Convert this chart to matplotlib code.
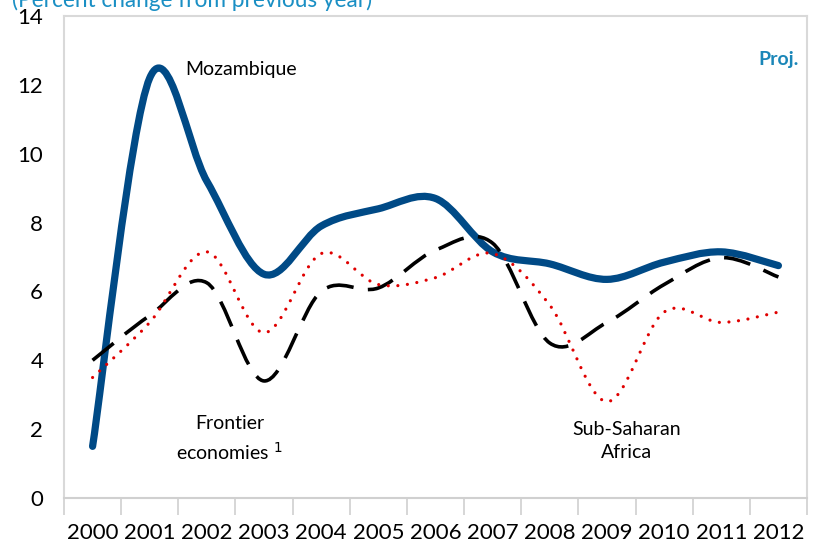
import numpy as np
import matplotlib
matplotlib.use("Agg")
import matplotlib.pyplot as plt
from matplotlib.path import Path
from matplotlib.patches import PathPatch

years = ["2000", "2001", "2002", "2003", "2004", "2005", "2006",
         "2007", "2008", "2009", "2010", "2011", "2012"]
mozambique = [1.5, 12.2, 9.2, 6.5, 7.9, 8.4, 8.7, 7.15, 6.8, 6.35, 6.85, 7.15, 6.75]
frontier = [4.0, 5.3, 6.25, 3.4, 6.0, 6.1, 7.2, 7.4, 4.5, 5.1, 6.2, 6.98, 6.42]
ssa = [3.5, 5.1, 7.15, 4.8, 7.1, 6.2, 6.4, 7.1, 5.6, 2.8, 5.4, 5.1, 5.4]

plt.rcParams['font.family'] = ['Lato', 'DejaVu Sans']

def smooth_path(xs, ys, t=1.0 / 6):
    xs = np.asarray(xs, float)
    ys = np.asarray(ys, float)
    n = len(xs)
    verts = [(xs[0], ys[0])]
    codes = [Path.MOVETO]
    for i in range(n - 1):
        p0 = np.array([xs[max(i - 1, 0)], ys[max(i - 1, 0)]])
        p1 = np.array([xs[i], ys[i]])
        p2 = np.array([xs[i + 1], ys[i + 1]])
        p3 = np.array([xs[min(i + 2, n - 1)], ys[min(i + 2, n - 1)]])
        c1 = p1 + (p2 - p0) * t
        c2 = p2 - (p3 - p1) * t
        verts += [tuple(c1), tuple(c2), tuple(p2)]
        codes += [Path.CURVE4] * 3
    return Path(verts, codes)

fig = plt.figure(figsize=(8.13, 5.45), dpi=100)
ax = fig.add_axes([64 / 813, 1 - 498 / 545, (807 - 64) / 813, (498 - 16) / 545])

x = np.arange(len(years))
ax.set_xlim(-0.5, len(years) - 0.5)
ax.set_ylim(0, 14)

ax.add_patch(PathPatch(smooth_path(x, mozambique), fill=False, edgecolor='#004a86',
                       lw=5.2, capstyle='round', joinstyle='round', zorder=3))
ax.add_patch(PathPatch(smooth_path(x, frontier), fill=False, edgecolor='black',
                       lw=2.6, linestyle=(0, (7.5, 4.0)), capstyle='butt', zorder=4))
ax.add_patch(PathPatch(smooth_path(x, ssa), fill=False, edgecolor='#e00000',
                       lw=2.3, linestyle=(0, (0.01, 3.0)), capstyle='round', zorder=5))

ax.set_yticks(range(0, 15, 2))
ax.set_yticklabels([str(v) for v in range(0, 15, 2)], fontsize=16)
ax.set_xticks(x)
ax.set_xticklabels(years, fontsize=16)
ax.set_xticks(np.arange(-0.5, len(years), 1.0), minor=True)
ax.tick_params(axis='x', which='major', length=0, pad=18)
ax.tick_params(axis='x', which='minor', length=12, color='#d0d0d0', width=1.2)
ax.tick_params(axis='y', length=0, pad=15)

for s in ax.spines.values():
    s.set_color('#d9d9d9')
    s.set_linewidth(1.5)
ax.spines['bottom'].set_color('#d0d0d0')

ax.text(2.6, 12.45, "Mozambique", fontsize=14, ha='center', va='center')
ax.text(12.35, 12.75, "Proj.", fontsize=14, fontweight='bold', color='#1a86b8',
        ha='right', va='center')
ax.text(2.4, 1.72, "Frontier\neconomies $^{1}$", fontsize=14, ha='center', va='center',
        linespacing=1.45)
ax.text(9.34, 1.66, "Sub-Saharan\nAfrica", fontsize=14, ha='center', va='center',
        linespacing=1.45)

fig.text(12 / 813, 1 - 0 / 545, "(Percent change from previous year)", fontsize=16.3,
         color='#1a8fc4', ha='left', va='center')

fig.savefig("out.png", dpi=100)
